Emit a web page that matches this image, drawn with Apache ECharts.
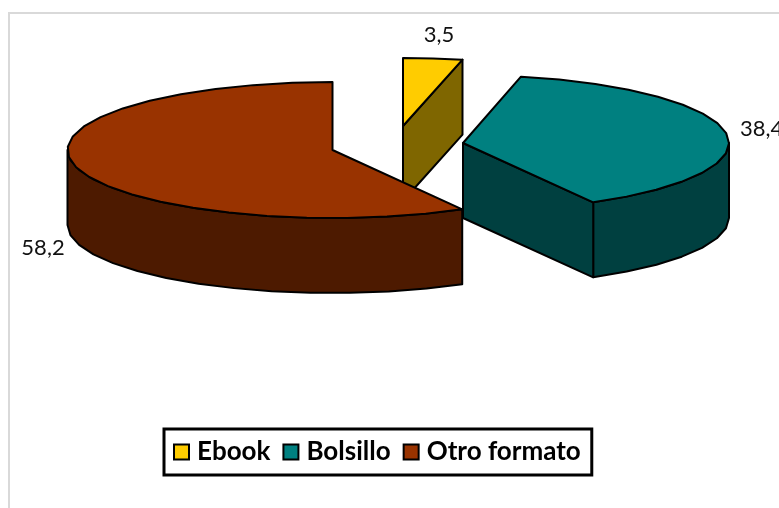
<!DOCTYPE html>
<html>
<head>
<meta charset="utf-8">
<style>html,body{margin:0;padding:0;background:#fff}#c{width:779px;height:508px}</style>
<script src="https://cdn.jsdelivr.net/npm/echarts@6/dist/echarts.min.js"></script>
</head>
<body>
<div id="c"></div>
<script>
var categories = ['Ebook', 'Bolsillo', 'Otro formato'];
var values = [3.5, 38.4, 58.2];
var labelTexts = ['3,5', '38,4', '58,2'];

var topColors = ['#FFCC00', '#008080', '#993300'];
var sideColors = ['#7F6600', '#004040', '#4D1A00'];
var centers = [[403, 126], [463, 143], [332.5, 150]];
var radiiX = [273, 266, 265];
var labelPositions = [[439, 35], [740, 129], [43, 248]];
var RY = 68, DEPTH = 75;
var total = values.reduce(function (a, b) { return a + b; }, 0);

function rim(c, rx, deg, dy) {
  var r = deg * Math.PI / 180;
  return [c[0] + rx * Math.sin(r), c[1] - RY * Math.cos(r) + dy];
}
function arc(c, rx, a, b, dy) {
  var pts = [], n = Math.max(2, Math.ceil(Math.abs(b - a) / 9));
  for (var i = 0; i <= n; i++) pts.push(rim(c, rx, a + (b - a) * i / n, dy));
  return pts;
}
var lineStyle = { stroke: '#000', lineWidth: 2, lineJoin: 'round' };
function poly(points, fill) {
  return { type: 'polygon', shape: { points: points },
           style: Object.assign({ fill: fill }, lineStyle) };
}
function makeRender(idx) {
  return function (params, api) {
    var v = api.value(0), start = 0;
    for (var i = 0; i < idx; i++) start += values[i];
    var a0 = start / total * 360, a1 = a0 + v / total * 360;
    var c = centers[idx], rx = radiiX[idx], children = [];
    var wa = Math.max(a0, 90), wb = Math.min(a1, 270);
    if (wb > wa) {
      children.push(poly(arc(c, rx, wa, wb, 0).concat(arc(c, rx, wb, wa, DEPTH)), sideColors[idx]));
    }
    if (a1 > 0 && a1 < 180) {
      var e = rim(c, rx, a1, 0);
      children.push(poly([c, e, [e[0], e[1] + DEPTH], [c[0], c[1] + DEPTH]], sideColors[idx]));
    }
    children.push(poly([c].concat(arc(c, rx, a0, a1, 0)), topColors[idx]));
    children.push({ type: 'text', z2: 50,
      style: { text: labelTexts[idx], x: labelPositions[idx][0], y: labelPositions[idx][1],
               fill: '#111', font: '22px Lato', align: idx === 1 ? 'left' : 'center', verticalAlign: 'middle' } });
    return { type: 'group', children: children };
  };
}
var chart = echarts.init(document.getElementById('c'), null, { renderer: 'canvas' });
chart.setOption({
  animation: false,
  backgroundColor: '#fff',
  graphic: [{ type: 'rect', silent: true, z: -1,
    shape: { x: 9, y: 13, width: 900, height: 900 },
    style: { fill: 'none', stroke: '#D9D9D9', lineWidth: 2 } }],
  legend: {
    left: 164, top: 429,
    data: categories,
    icon: 'rect',
    itemWidth: 15, itemHeight: 15, itemGap: 12,
    padding: [10, 11, 10, 9],
    backgroundColor: '#fff',
    borderColor: '#000', borderWidth: 3, borderRadius: 0,
    itemStyle: { borderColor: '#000', borderWidth: 2 },
    textStyle: { fontFamily: 'Lato', fontWeight: 'bold', fontSize: 26, color: '#000', padding: [0, 0, 0, 3] },
    selectedMode: false
  },
  series: categories.map(function (name, i) {
    return { type: 'custom', name: name, coordinateSystem: 'none',
             itemStyle: { color: topColors[i] },
             renderItem: makeRender(i), data: [[values[i]]], silent: true };
  })
});
</script>
</body>
</html>
